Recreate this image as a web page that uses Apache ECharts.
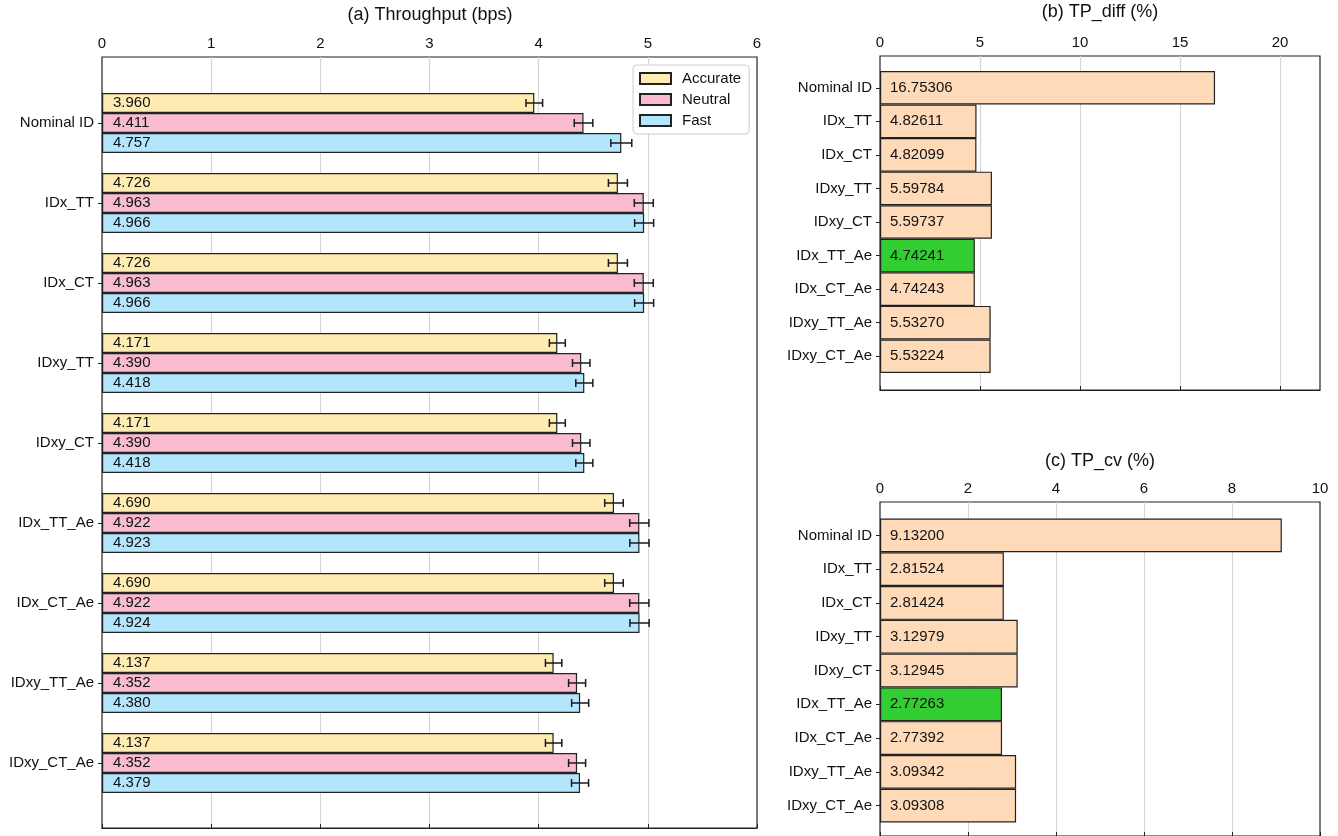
<!DOCTYPE html>
<html>
<head>
<meta charset="utf-8">
<script src="https://cdn.jsdelivr.net/npm/echarts@6/dist/echarts.min.js"></script>
<style>
  html, body { margin: 0; padding: 0; background: #fff; }
  #chart { width: 1338px; height: 836px; }
</style>
</head>
<body>
<div id="chart"></div>
<script>
// Conditions shared by all three panels
const categories = ['Nominal ID', 'IDx_TT', 'IDx_CT', 'IDxy_TT', 'IDxy_CT',
                    'IDx_TT_Ae', 'IDx_CT_Ae', 'IDxy_TT_Ae', 'IDxy_CT_Ae'];

// (a) Throughput in bps per instruction condition, with error half-widths
const accurate    = [3.960, 4.726, 4.726, 4.171, 4.171, 4.690, 4.690, 4.137, 4.137];
const neutral     = [4.411, 4.963, 4.963, 4.390, 4.390, 4.922, 4.922, 4.352, 4.352];
const fast        = [4.757, 4.966, 4.966, 4.418, 4.418, 4.923, 4.924, 4.380, 4.379];
const accurateErr = [0.076, 0.087, 0.087, 0.073, 0.073, 0.085, 0.085, 0.075, 0.075];
const neutralErr  = [0.085, 0.087, 0.087, 0.080, 0.080, 0.088, 0.088, 0.078, 0.078];
const fastErr     = [0.096, 0.087, 0.087, 0.078, 0.078, 0.088, 0.088, 0.078, 0.078];

// (b) TP_diff and (c) TP_cv in percent
const tpDiff = [16.75306, 4.82611, 4.82099, 5.59784, 5.59737, 4.74241, 4.74243, 5.53270, 5.53224];
const tpCv   = [9.13200, 2.81524, 2.81424, 3.12979, 3.12945, 2.77263, 2.77392, 3.09342, 3.09308];

const FONT = '"Liberation Sans", Arial, Helvetica, sans-serif';
const EDGE = '#222';
const GRIDLINE = '#d6d6d6';
const PEACH = '#FFDAB9';
const BEST = '#32CD32';

function argMin(arr) {
  let k = 0;
  arr.forEach((v, i) => { if (v < arr[k]) k = i; });
  return k;
}

// Frame grid: carries the top value axis, grid lines and the box border
function frameXAxis(gridIndex, max, interval) {
  return {
    gridIndex, type: 'value', position: 'top', min: 0, max, interval,
    axisLine: { show: true, lineStyle: { color: EDGE, width: 1 } },
    axisTick: { show: true, inside: false, length: 4, lineStyle: { color: EDGE } },
    axisLabel: { show: true, margin: 6, fontSize: 15, color: '#111', fontFamily: FONT, showMaxLabel: max % interval === 0 },
    splitLine: { show: true, showMinLine: false, showMaxLine: false, lineStyle: { color: GRIDLINE, width: 1.2 } }
  };
}
function hiddenXAxis(gridIndex, max) {
  return { gridIndex, type: 'value', min: 0, max, show: false, splitLine: { show: false } };
}
function hiddenYAxis(gridIndex) {
  return { gridIndex, type: 'value', show: false, splitLine: { show: false } };
}
function categoryYAxis(gridIndex) {
  return {
    gridIndex, type: 'category', data: categories, inverse: true,
    axisLine: { show: false },
    axisTick: { show: true, alignWithLabel: true, length: 4, lineStyle: { color: EDGE } },
    axisLabel: { margin: 8, fontSize: 15, color: '#111', fontFamily: FONT },
    splitLine: { show: false }
  };
}

function throughputBar(name, values, color) {
  return {
    name, type: 'bar', xAxisIndex: 1, yAxisIndex: 1,
    data: values, barWidth: 20, barGap: '0%',
    itemStyle: { color, borderColor: EDGE, borderWidth: 1.2 },
    label: {
      show: true, position: 'insideLeft', distance: 11,
      fontSize: 15, color: '#111', fontFamily: FONT,
      formatter: p => p.value.toFixed(3)
    },
    z: 2
  };
}

// Horizontal error bar with caps, shifted to the slot of its bar in the group
function errorBars(values, errs, slot) {
  return {
    type: 'custom', xAxisIndex: 1, yAxisIndex: 1,
    data: values.map((v, i) => [v, i, errs[i]]),
    encode: { x: 0, y: 1 },
    silent: true, z: 5,
    renderItem: (params, api) => {
      const v = api.value(0), c = api.value(1), e = api.value(2);
      const band = api.size([0, 1])[1];
      const dy = (slot - 1) * band * 0.25;
      const a = api.coord([v - e, c]);
      const b = api.coord([v + e, c]);
      const y = a[1] + dy;
      const cap = 4;
      const style = { stroke: '#1a1a1a', lineWidth: 1.5 };
      return {
        type: 'group',
        children: [
          { type: 'line', shape: { x1: a[0], y1: y, x2: b[0], y2: y }, style },
          { type: 'line', shape: { x1: a[0], y1: y - cap, x2: a[0], y2: y + cap }, style },
          { type: 'line', shape: { x1: b[0], y1: y - cap, x2: b[0], y2: y + cap }, style }
        ]
      };
    }
  };
}

function metricBar(values, axisIndex) {
  const best = argMin(values);
  return {
    type: 'bar', xAxisIndex: axisIndex, yAxisIndex: axisIndex,
    data: values.map((v, i) => ({
      value: v,
      itemStyle: { color: i === best ? BEST : PEACH }
    })),
    barCategoryGap: '0%',
    itemStyle: { borderColor: EDGE, borderWidth: 1.2 },
    label: {
      show: true, position: 'insideLeft', distance: 10,
      fontSize: 15, color: '#111', fontFamily: FONT,
      formatter: p => p.value.toFixed(5)
    },
    z: 2
  };
}

const titleStyle = { fontSize: 18, fontWeight: 'normal', color: '#111', fontFamily: FONT };
const frameGrid = { show: true, borderColor: EDGE, borderWidth: 1.2, backgroundColor: 'transparent', containLabel: false };

const option = {
  animation: false,
  backgroundColor: '#fff',
  title: [
    { text: '(a) Throughput (bps)', left: 430, top: 6, textAlign: 'center', padding: 0, textStyle: titleStyle },
    { text: '(b) TP_diff (%)', left: 1100, top: 3, textAlign: 'center', padding: 0, textStyle: titleStyle },
    { text: '(c) TP_cv (%)', left: 1100, top: 452, textAlign: 'center', padding: 0, textStyle: titleStyle }
  ],
  legend: {
    data: [
      { name: 'Accurate' }, { name: 'Neutral' }, { name: 'Fast' }
    ],
    orient: 'vertical',
    left: 633, top: 65,
    itemWidth: 31, itemHeight: 11, itemGap: 6,
    icon: 'rect',
    padding: [6, 8, 6, 6],
    backgroundColor: '#fff',
    borderColor: '#cccccc', borderWidth: 1, borderRadius: 4,
    selectedMode: false,
    textStyle: { fontSize: 15, color: '#111', fontFamily: FONT, padding: [0, 0, 0, 6] }
  },
  grid: [
    Object.assign({ left: 102, top: 57, width: 655, height: 771 }, frameGrid),
    { left: 102, top: 83, width: 655, height: 720, containLabel: false },
    Object.assign({ left: 880, top: 56, width: 440, height: 334 }, frameGrid),
    { left: 880, top: 71, width: 440, height: 302, containLabel: false },
    Object.assign({ left: 880, top: 502, width: 440, height: 336 }, frameGrid),
    { left: 880, top: 518.5, width: 440, height: 304, containLabel: false }
  ],
  xAxis: [
    frameXAxis(0, 6, 1), hiddenXAxis(1, 6),
    frameXAxis(2, 22, 5), hiddenXAxis(3, 22),
    frameXAxis(4, 10, 2), hiddenXAxis(5, 10)
  ],
  yAxis: [
    hiddenYAxis(0), categoryYAxis(1),
    hiddenYAxis(2), categoryYAxis(3),
    hiddenYAxis(4), categoryYAxis(5)
  ],
  series: [
    throughputBar('Accurate', accurate, '#FFECB3'),
    throughputBar('Neutral', neutral, '#F8BBD0'),
    throughputBar('Fast', fast, '#B3E5FC'),
    errorBars(accurate, accurateErr, 0),
    errorBars(neutral, neutralErr, 1),
    errorBars(fast, fastErr, 2),
    metricBar(tpDiff, 3),
    metricBar(tpCv, 5)
  ]
};

const chart = echarts.init(document.getElementById('chart'), null, { renderer: 'canvas' });
chart.setOption(option);
</script>
</body>
</html>
